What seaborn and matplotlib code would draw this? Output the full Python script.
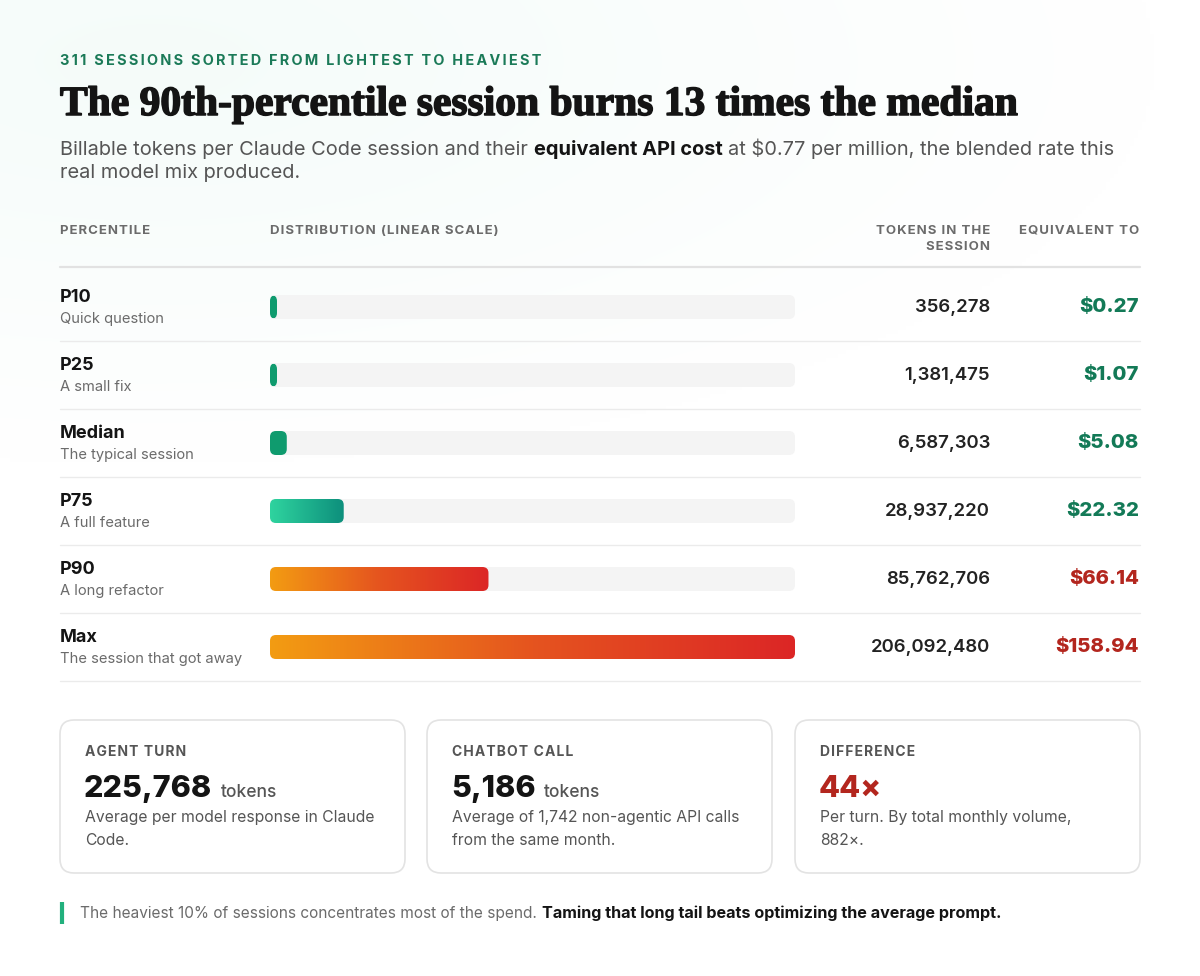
import numpy as np
import pandas as pd
import matplotlib
matplotlib.use("Agg")
import matplotlib.pyplot as plt
import matplotlib.patheffects as pe
from matplotlib.patches import FancyBboxPatch
from matplotlib.colors import LinearSegmentedColormap
import seaborn as sns

# ---------------- data ----------------
percentiles = ["P10", "P25", "Median", "P75", "P90", "Max"]
descriptions = ["Quick question", "A small fix", "The typical session",
                "A full feature", "A long refactor", "The session that got away"]
tokens = [356278, 1381475, 6587303, 28937220, 85762706, 206092480]
costs = ["$0.27", "$1.07", "$5.08", "$22.32", "$66.14", "$158.94"]
heavy = [False, False, False, False, True, True]

card_labels = ["AGENT TURN", "CHATBOT CALL", "DIFFERENCE"]
card_values = ["225,768", "5,186", "44×"]
card_units = ["tokens", "tokens", ""]
card_desc = ["Average per model response in Claude\nCode.",
             "Average of 1,742 non-agentic API calls\nfrom the same month.",
             "Per turn. By total monthly volume,\n882×."]

kicker = "311 SESSIONS SORTED FROM LIGHTEST TO HEAVIEST"
title = "The 90th-percentile session burns 13 times the median"
sub_a = "Billable tokens per Claude Code session and their"
sub_b = "equivalent API cost"
sub_c = "at $0.77 per million, the blended rate this"
sub_d = "real model mix produced."
foot_a = "The heaviest 10% of sessions concentrates most of the spend."
foot_b = "Taming that long tail beats optimizing the average prompt."

df = pd.DataFrame({"pct": percentiles, "tokens": tokens})

# ---------------- style ----------------
sns.set_theme(style="white")
SANS = ["Inter", "DejaVu Sans"]
SERIF = ["Liberation Serif", "DejaVu Serif"]
plt.rcParams["font.family"] = SANS


def tracked(s, sp="\u200a"):
    """Emulate CSS letter-spacing with narrow spaces."""
    return sp.join(s)


W, H = 1200, 976
fig = plt.figure(figsize=(W / 100, H / 100), dpi=100)
fig.patch.set_facecolor("white")

bg = fig.add_axes([0, 0, 1, 1])
bg.set_xlim(0, W)
bg.set_ylim(H, 0)
bg.axis("off")

# faint mint glow at top-left
yy, xx = np.mgrid[0:H:4, 0:W:4]
d = np.sqrt(((xx - 150) / 1000.0) ** 2 + ((yy - 60) / 400.0) ** 2)
a = np.clip(1 - d, 0, 1) ** 1.0
img = np.ones((yy.shape[0], yy.shape[1], 3))
tint = np.array([0.960, 0.987, 0.978])
img = img * (1 - a[..., None]) + tint * a[..., None]
bg.imshow(img, extent=(0, W, H, 0), aspect="auto", zorder=0, interpolation="bilinear")

DARK = "#141414"
GRAY = "#555555"
LGRAY = "#6b6b6b"
GREEN = "#137a57"
RED = "#b3261e"
LINE = "#ebebeb"

# ---------------- header ----------------
bg.text(60, 61, tracked(kicker, "\u2009"), fontsize=10.4, fontweight="bold", color="#1b7a58",
        va="center", ha="left")
bg.text(60, 105, title, fontsize=29.9, fontweight="bold", color=DARK,
        va="center", ha="left", family=SERIF,
        path_effects=[pe.withStroke(linewidth=1.1, foreground=DARK)])
SUB = 14.4
t_a = bg.text(60, 155, sub_a, fontsize=SUB, color=GRAY, va="baseline")
t_b = bg.annotate(sub_b, xy=(1, 155), xycoords=(t_a, "data"), xytext=(4.2, 0),
                  textcoords="offset points", fontsize=SUB, fontweight="bold",
                  color=DARK, va="baseline")
bg.annotate(sub_c, xy=(1, 155), xycoords=(t_b, "data"), xytext=(4.2, 0),
            textcoords="offset points", fontsize=SUB, color=GRAY, va="baseline")
bg.text(60, 178, sub_d, fontsize=SUB, color=GRAY, va="baseline")

# column headers
hkw = dict(fontsize=9.5, fontweight="bold", color=LGRAY)
bg.text(60, 231, tracked("PERCENTILE"), va="center", ha="left", **hkw)
bg.text(270, 231, tracked("DISTRIBUTION (LINEAR SCALE)"), va="center", ha="left", **hkw)
bg.text(990, 231, tracked("TOKENS IN THE"), va="center", ha="right", **hkw)
bg.text(990, 247, tracked("SESSION"), va="center", ha="right", **hkw)
bg.text(1139, 231, tracked("EQUIVALENT TO"), va="center", ha="right", **hkw)
bg.plot([60, 1140], [267, 267], color="#e2e2e2", lw=1.6, zorder=2)

# rows (text + separators)
row_top = 273
row_h = 68
for i in range(len(percentiles)):
    cy = row_top + row_h * i + 34
    bg.text(60, cy - 10, percentiles[i], fontsize=13, fontweight="bold",
            color=DARK, va="center", ha="left")
    bg.text(60, cy + 12, descriptions[i], fontsize=10.6, color=LGRAY,
            va="center", ha="left")
    bg.text(990, cy, f"{tokens[i]:,}", fontsize=13.4, fontweight="semibold",
            color="#222222", va="center", ha="right")
    bg.text(1139, cy, costs[i], fontsize=14.6, fontweight="heavy",
            color=RED if heavy[i] else GREEN, va="center", ha="right")
    bg.plot([60, 1140], [row_top + row_h * (i + 1)] * 2, color=LINE, lw=1, zorder=2)

# ---------------- bar axes ----------------
x0, x1 = 270, 795
bax = fig.add_axes([x0 / W, 1 - (row_top + row_h * 6) / H, (x1 - x0) / W, row_h * 6 / H])
bax.patch.set_alpha(0)
sns.barplot(data=df, x="tokens", y="pct", orient="h", ax=bax, width=24 / row_h,
            color="#0f9b6e", saturation=1)
xmax = max(tokens)
bax.set_xlim(0, xmax)
bax.set_ylim(len(percentiles) - 0.5, -0.5)
bax.axis("off")

px_x = xmax / (x1 - x0)          # data units per pixel (x)
px_y = 1.0 / row_h               # data units per pixel (y)
r_px = 6
min_w_px = 7

grad_green = LinearSegmentedColormap.from_list("g", ["#2fd49f", "#0d8f7c"])
grad_heat = LinearSegmentedColormap.from_list("h", ["#f39c12", "#e5541f", "#dc2626"])

for i, p in enumerate(list(bax.patches)):
    y = p.get_y()
    h = p.get_height()
    w = max(p.get_width(), min_w_px * px_x)
    p.set_visible(False)
    track = FancyBboxPatch((0, y), xmax, h,
                           boxstyle=f"round,pad=0,rounding_size={r_px * px_x}",
                           mutation_aspect=px_y / px_x, fc="#f4f4f4", ec="none", zorder=1)
    bax.add_patch(track)
    bar = FancyBboxPatch((0, y), w, h,
                         boxstyle=f"round,pad=0,rounding_size={r_px * px_x}",
                         mutation_aspect=px_y / px_x, fc="#0f9b6e", ec="none", zorder=2)
    bax.add_patch(bar)
    if i == 3 or heavy[i]:
        bar.set_facecolor("none")
        cmap = grad_heat if heavy[i] else grad_green
        grad = np.linspace(0, 1, 256)[None, :]
        im = bax.imshow(grad, extent=(0, w, y + h, y), cmap=cmap, aspect="auto",
                        zorder=3, interpolation="bilinear")
        im.set_clip_path(bar)
bax.set_xlim(0, xmax)
bax.set_ylim(len(percentiles) - 0.5, -0.5)

# ---------------- cards ----------------
cards_x = [60, 427, 795]
card_w = 345
for k in range(3):
    cx = cards_x[k]
    box = FancyBboxPatch((cx, 720), card_w, 153, boxstyle="round,pad=0,rounding_size=14",
                         fc="white", ec="#e3e3e3", lw=1.2, zorder=2)
    bg.add_patch(box)
    bg.text(cx + 25, 752, tracked(card_labels[k]), fontsize=10, fontweight="bold",
            color=GRAY, va="center", ha="left", zorder=3)
    vt = bg.text(cx + 24, 797, card_values[k], fontsize=22, fontweight="heavy",
                 color=RED if k == 2 else DARK, va="baseline", ha="left", zorder=3)
    if card_units[k]:
        bg.annotate(card_units[k], xy=(1, 797), xycoords=(vt, "data"), xytext=(6, 0),
                    textcoords="offset points", fontsize=12.5, fontweight="medium",
                    color=GRAY, va="baseline", ha="left", zorder=3)
    bg.text(cx + 25, 829, card_desc[k], fontsize=11.3, color=GRAY,
            va="center", ha="left", linespacing=1.65, zorder=3)

# ---------------- footer ----------------
bg.plot([62, 62], [902, 924], color="#22b07d", lw=3, solid_capstyle="butt", zorder=3)
fa = bg.text(80, 918, foot_a, fontsize=11.1, color=LGRAY, va="baseline", ha="left")
bg.annotate(foot_b, xy=(1, 918), xycoords=(fa, "data"), xytext=(3.5, 0),
            textcoords="offset points", fontsize=11.6, fontweight="bold",
            color=DARK, va="baseline", ha="left")

fig.savefig("out.png", dpi=100, facecolor="white")
